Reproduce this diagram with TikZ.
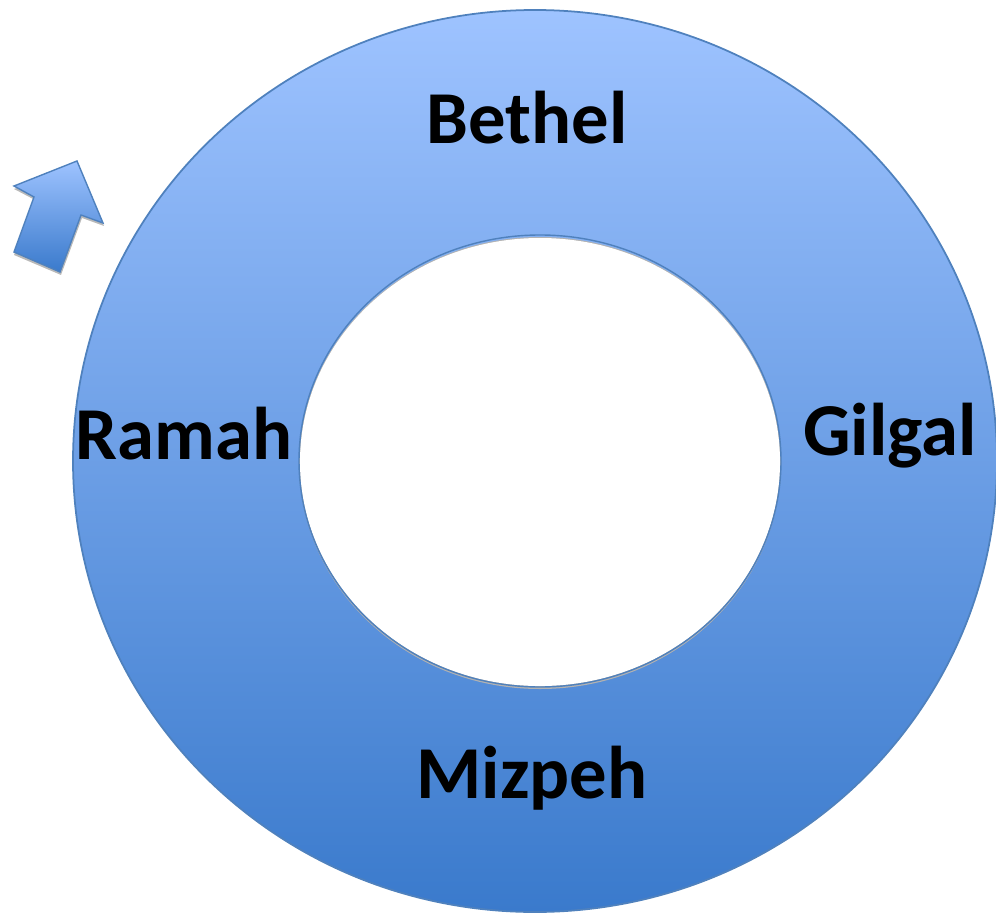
\documentclass[tikz,border=0pt]{standalone}
\usepackage{fontspec}
\setmainfont{Carlito}
\usetikzlibrary{positioning}

\definecolor{ringtop}{RGB}{158,195,255}
\definecolor{ringbot}{RGB}{58,122,204}
\definecolor{ringline}{RGB}{79,129,189}

\begin{document}
\begin{tikzpicture}[
  x=0.02cm, y=-0.02cm,
  place/.style={font=\fontsize{42.5}{48}\selectfont\bfseries, text=black, inner sep=0pt},
  ringedge/.style={draw=ringline, line width=1pt},
]
\useasboundingbox (0,0) rectangle (996,915);

% ---- ring -------------------------------------------------------
\shade[top color=ringtop, bottom color=ringbot] (535,461) ellipse [x radius=462, y radius=451];
\draw[ringedge] (535,461) ellipse [x radius=462, y radius=451];
\fill[gray!60] (540,463) ellipse [x radius=241, y radius=226];
\fill[white] (540,462) ellipse [x radius=240, y radius=224];
\draw[ringedge, line width=0.8pt] (540,461) ellipse [x radius=241, y radius=226];

% ---- turn arrow -------------------------------------------------
\fill[gray!55] (78,164) -- (104,226) -- (82,218) -- (61,275) -- (14,255) -- (35,200) -- (14,189) -- cycle;
\shade[shading angle=-22, top color=ringtop, bottom color=ringbot, draw=ringline, line width=0.8pt]
  (77,161) -- (103,223) -- (81,215) -- (60,272) -- (14,252) -- (34,197) -- (14,186) -- cycle;

% ---- places -----------------------------------------------------
\node[place] (bethel) at (527,118) {Bethel};
\node[place] (ramah)  at (184,434) {Ramah};
\node[place] (gilgal) at (890,436) {Gilgal};
\node[place] (mizpeh) at (532,778) {Mizpeh};

\end{tikzpicture}
\end{document}
